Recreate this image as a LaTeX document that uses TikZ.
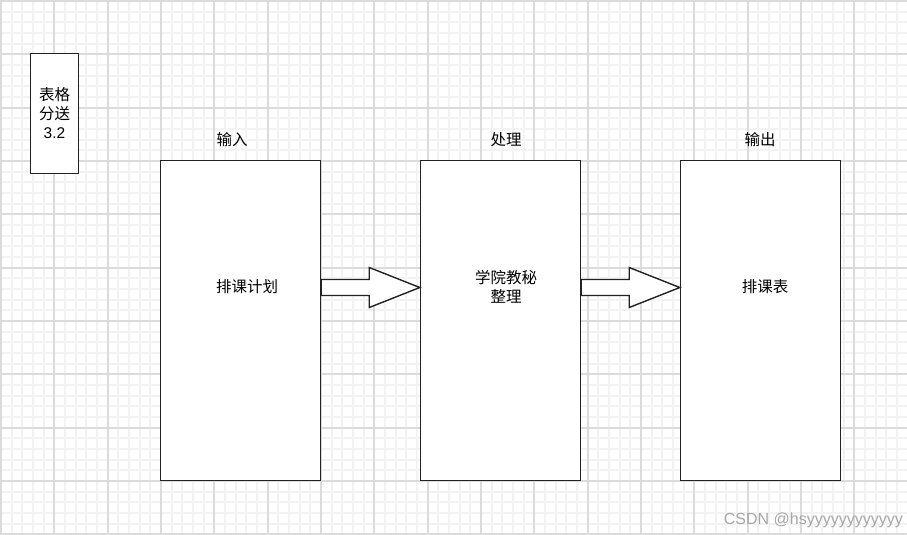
\documentclass[tikz,border=0pt]{standalone}
\usepackage{fontspec}
\setmainfont{Liberation Sans}
\newfontfamily\cjk{Noto Sans CJK SC}
\usetikzlibrary{calc}
\definecolor{minorgrid}{HTML}{F3F3F3}
\definecolor{majorgrid}{HTML}{DBDBDB}
\definecolor{markgray}{HTML}{A6A6A6}
\definecolor{edge}{HTML}{222222}
\tikzset{
  stage/.style={draw=edge, line width=1.4pt, fill=white, minimum width=160, minimum height=320, inner sep=0pt},
  formbox/.style={draw=edge, line width=1.4pt, fill=white, minimum width=48, minimum height=120, inner sep=0pt,
    align=center, font=\cjk\fontsize{15.5}{19}\selectfont},
  lbl/.style={font=\cjk\fontsize{15.5}{19}\selectfont, align=center, inner sep=0pt},
  blockarrow/.style={draw=edge, line width=1.4pt, fill=white, line join=miter}
}
\begin{document}
\begin{tikzpicture}[x=1pt, y=-1pt]
    \useasboundingbox (0,0) rectangle (907,535);
    \fill[white] (0,0) rectangle (907,535);

    % Grid
    \foreach \i in {0,...,85}
      \draw[minorgrid, line width=1.5pt] ({round(1+\i*10.667)},0) -- ({round(1+\i*10.667)},535);
    \foreach \j in {0,...,50}
      \draw[minorgrid, line width=1.5pt] (0,{round(1+\j*10.667)}) -- (907,{round(1+\j*10.667)});
    \foreach \i in {0,...,17}
      \draw[majorgrid, line width=2pt] ({round(1+\i*53.33)},0) -- ({round(1+\i*53.33)},535);
    \foreach \j in {0,...,10}
      \draw[majorgrid, line width=2pt] (0,{round(1+\j*53.33)}) -- (907,{round(1+\j*53.33)});

    % Form box
    \node[formbox] (form) at (54.5,113.5) {表格\\分送\\{\rmfamily 3.2}};

    % Stages
    \node[stage] (plan) at (240.5,320.5) {};
    \node[stage] (proc) at (500.5,320.5) {};
    \node[stage] (out) at (760.5,320.5) {};

    % Headings
    \node[lbl] (inhead) at (232,140) {输入};
    \node[lbl] (prochead) at (506,140) {处理};
    \node[lbl] (outhead) at (760,140) {输出};

    % Contents
    \node[lbl] (plantext) at (247,287) {排课计划};
    \node[lbl] (proctext) at (506,287) {学院教秘\\整理};
    \node[lbl] (outtext) at (765,287) {排课表};

    % Block arrows
    \draw[blockarrow] ($(plan.east)+(0,-41)$) -- ++(48,0) -- ++(0,-12) -- ($(proc.west)+(0,-33)$)
      -- ($(plan.east)+(48,-13)$) -- ++(0,-12) -- ++(-48,0) -- cycle;
    \draw[blockarrow] ($(proc.east)+(0,-41)$) -- ++(48,0) -- ++(0,-12) -- ($(out.west)+(0,-33)$)
      -- ($(proc.east)+(48,-13)$) -- ++(0,-12) -- ++(-48,0) -- cycle;

    % Watermark
    \node[anchor=east, text=markgray, font=\fontsize{16}{18}\selectfont, inner sep=0pt] (mark) at (903,520)
      {CSDN @hsyyyyyyyyyyyy};
\end{tikzpicture}
\end{document}
